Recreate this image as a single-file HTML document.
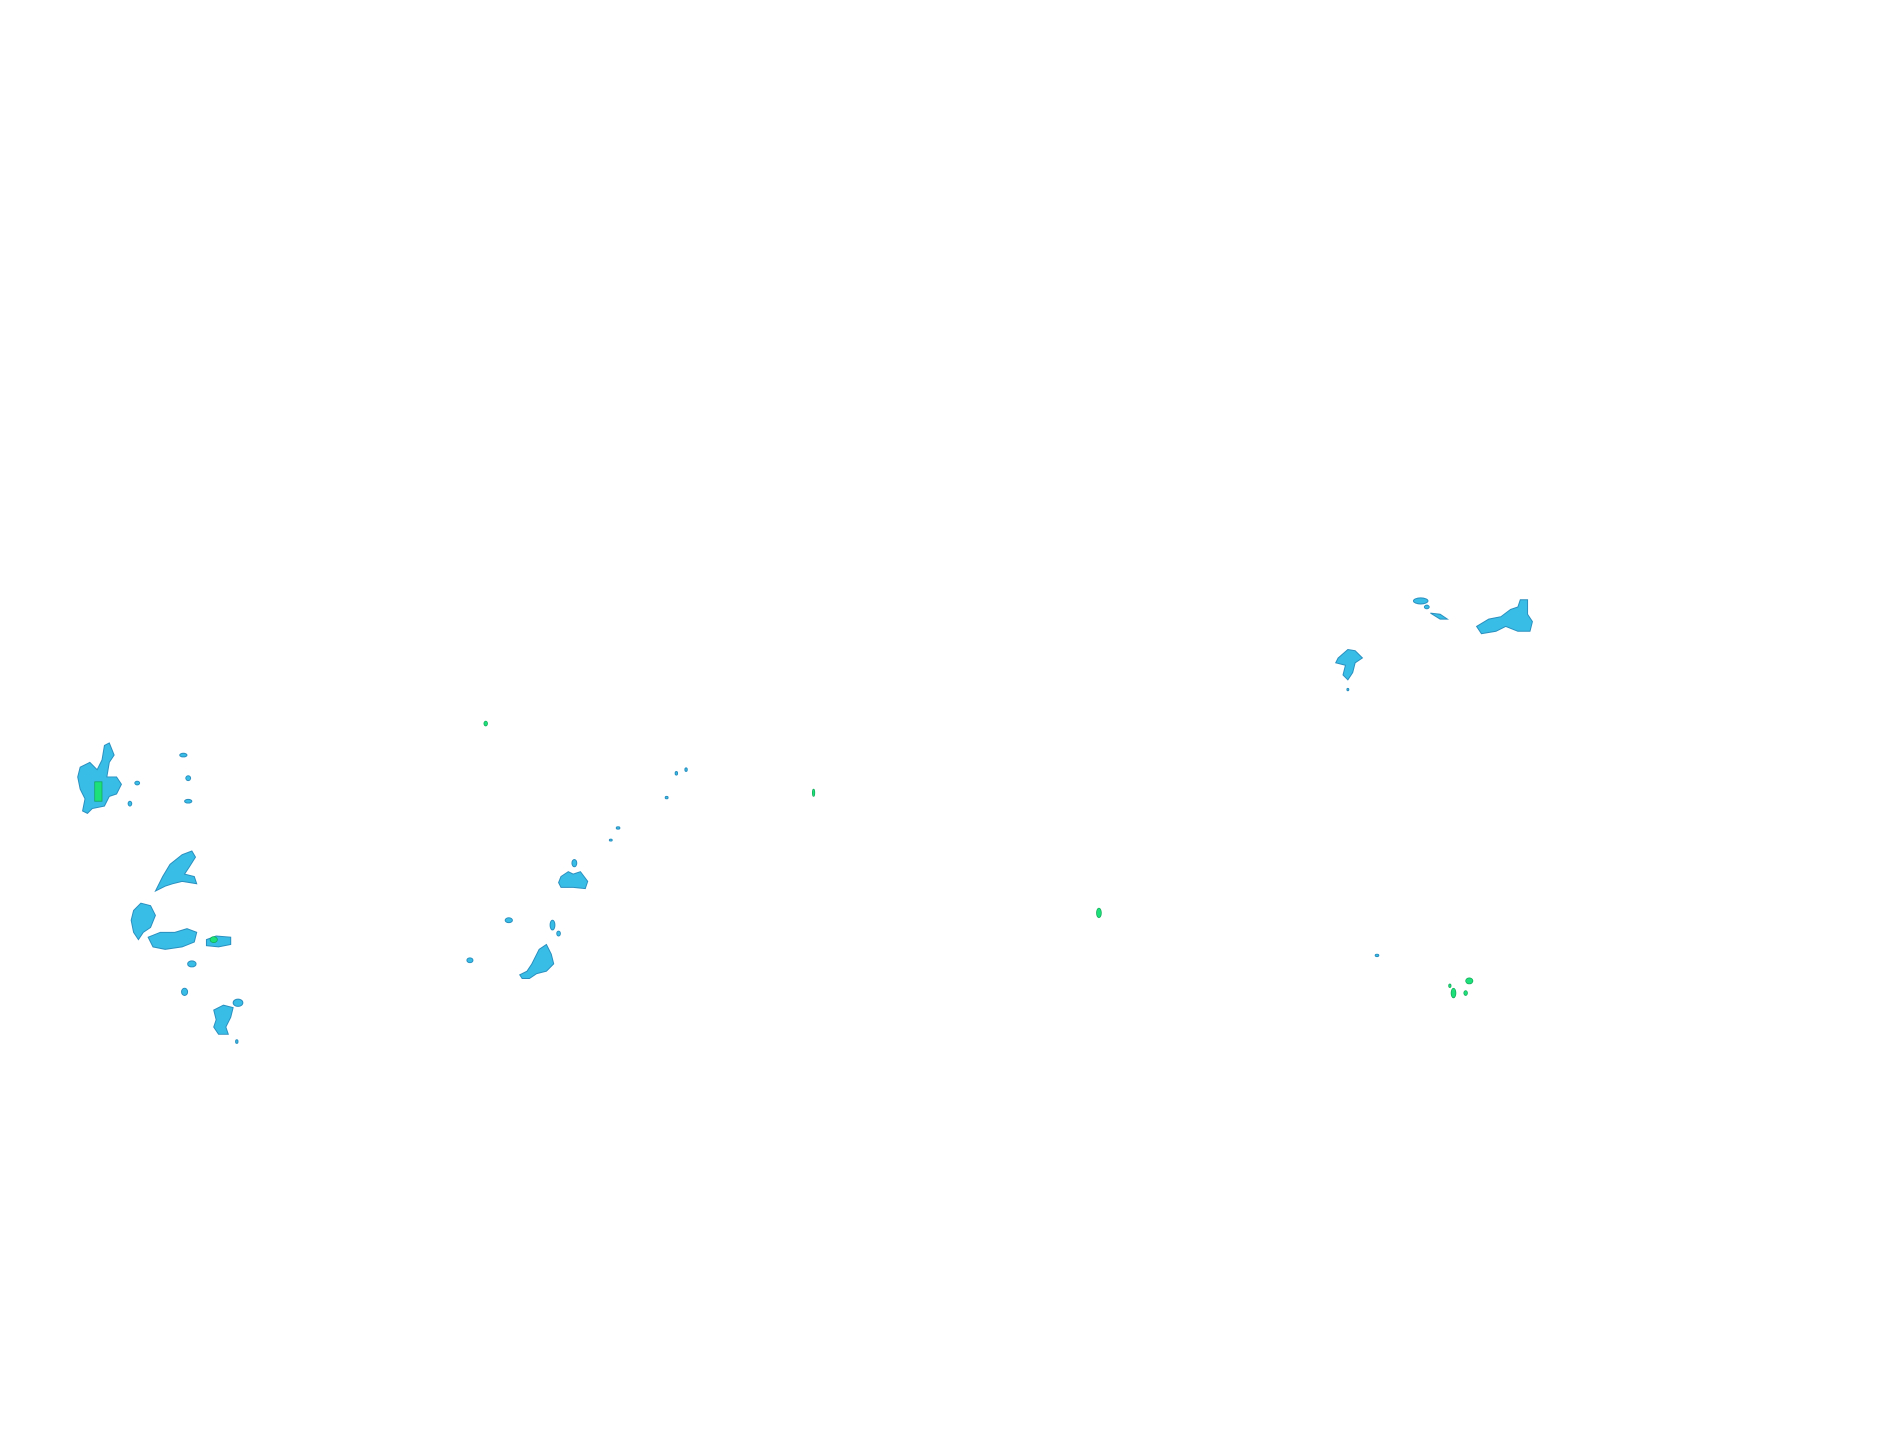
<!DOCTYPE html>
<html><head><meta charset="utf-8"><style>
html,body{margin:0;padding:0;background:#fff;}
svg{display:block;}
</style></head><body>
<svg width="1904" height="1441" viewBox="0 0 1568 1187" preserveAspectRatio="none" xmlns="http://www.w3.org/2000/svg">
<g fill="#38bde6" stroke="#2a8fbf" stroke-width="0.8">
<path d="M66,632 L74,628 L80,634 L84,626 L86,614 L90,612 L94,622 L90,628 L88,640 L96,640 L100,646 L96,654 L90,656 L86,664 L76,666 L72,670 L68,668 L70,658 L66,650 L64,640 Z"/>
<ellipse cx="151" cy="622" rx="3" ry="1.5"/>
<ellipse cx="155" cy="641" rx="2" ry="2"/>
<ellipse cx="155" cy="660" rx="3" ry="1.5"/>
<ellipse cx="107" cy="662" rx="1.5" ry="2"/>
<ellipse cx="113" cy="645" rx="2" ry="1.5"/>
<path d="M128,734 L134,722 L140,712 L150,704 L158,701 L161,706 L156,714 L152,720 L160,722 L162,728 L150,726 L142,728 L136,730 Z"/>
<path d="M110,750 L116,744 L124,746 L128,754 L124,764 L118,768 L114,774 L110,768 L108,758 Z"/>
<path d="M122,772 L132,768 L144,768 L154,765 L162,768 L160,776 L150,780 L136,782 L126,780 Z"/>
<path d="M170,774 L178,771 L190,772 L190,778 L180,780 L170,779 Z"/>
<ellipse cx="158" cy="794" rx="3.5" ry="2.5"/>
<ellipse cx="152" cy="817" rx="2.5" ry="3"/>
<path d="M176,832 L184,828 L192,830 L190,838 L186,846 L188,852 L180,852 L176,846 L178,840 Z"/>
<ellipse cx="196" cy="826" rx="4" ry="3"/>
<ellipse cx="195" cy="858" rx="1" ry="1.5"/>
<path d="M462,722 L468,718 L472,720 L478,718 L484,726 L482,732 L472,731 L462,731 L460,727 Z"/>
<ellipse cx="473" cy="711" rx="2" ry="3"/>
<ellipse cx="419" cy="758" rx="3" ry="2"/>
<ellipse cx="455" cy="762" rx="2" ry="4"/>
<ellipse cx="460" cy="769" rx="1.5" ry="2"/>
<ellipse cx="387" cy="791" rx="2.5" ry="2"/>
<path d="M438,794 L444,782 L450,778 L454,786 L456,794 L450,800 L442,802 L436,806 L430,806 L428,803 L434,800 Z"/>
<ellipse cx="557" cy="637" rx="1" ry="1.5"/>
<ellipse cx="565" cy="634" rx="1" ry="1.5"/>
<ellipse cx="549" cy="657" rx="1.2" ry="1"/>
<ellipse cx="509" cy="682" rx="1.5" ry="1"/>
<ellipse cx="503" cy="692" rx="1.2" ry="0.8"/>
<path d="M1102,542 L1110,535 L1116,536 L1122,542 L1116,546 L1114,554 L1110,560 L1106,556 L1108,548 L1100,546 Z"/>
<ellipse cx="1110" cy="568" rx="0.8" ry="1"/>
<ellipse cx="1170" cy="495" rx="6" ry="2.5"/>
<ellipse cx="1175" cy="500" rx="2" ry="1.5"/>
<path d="M1178,505 L1186,506 L1192,510 L1186,510 Z"/>
<path d="M1216,516 L1226,510 L1236,508 L1244,502 L1250,500 L1252,494 L1258,494 L1258,506 L1262,512 L1260,520 L1250,520 L1240,516 L1232,520 L1220,522 Z"/>
<ellipse cx="1134" cy="787" rx="1.5" ry="1"/>
</g>
<g fill="#1de07a" stroke="#12a858" stroke-width="0.6">
<rect x="78" y="644" width="6" height="16"/>
<ellipse cx="176" cy="774" rx="3" ry="2.5"/>
<ellipse cx="400" cy="596" rx="1.5" ry="2"/>
<ellipse cx="670" cy="653" rx="1" ry="3"/>
<ellipse cx="905" cy="752" rx="2" ry="4"/>
<ellipse cx="1210" cy="808" rx="3" ry="2.5"/>
<ellipse cx="1197" cy="818" rx="2" ry="4"/>
<ellipse cx="1207" cy="818" rx="1.5" ry="2"/>
<ellipse cx="1194" cy="812" rx="1" ry="1.5"/>
</g>
</svg>
</body></html>
